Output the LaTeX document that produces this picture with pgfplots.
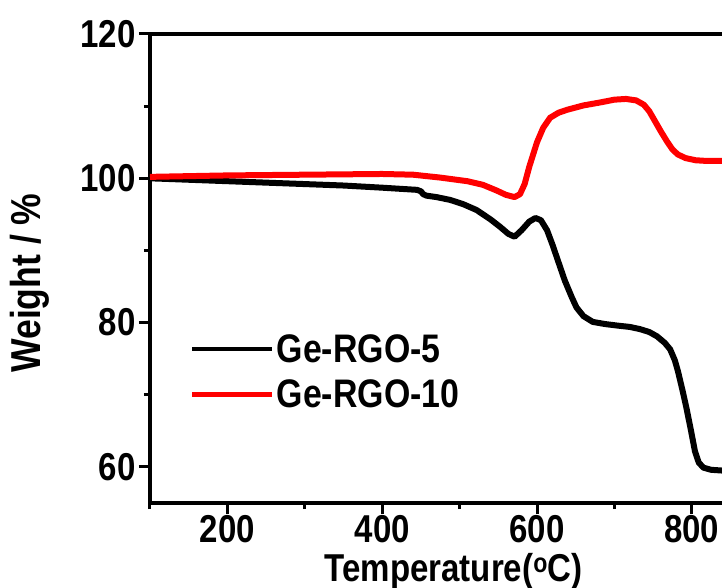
\documentclass[border=0pt]{standalone}
\usepackage{fontspec}
\setmainfont{Liberation Sans}[FakeStretch=0.85]
\usepackage{pgfplots}
\pgfplotsset{compat=1.18}
\begin{document}
\begin{tikzpicture}
\begin{axis}[
  scale only axis, width=572bp, height=469bp,
  xmin=100, xmax=839, ymin=55, ymax=120,
  axis x line=box, axis y line=left,
  y axis line style={-},
  xtick pos=left, ytick pos=left,
  tick align=outside,
  major tick length=11bp, minor tick length=6bp,
  every tick/.style={black, line width=3bp},
  axis line style={line width=4bp},
  xtick={200,400,600,800}, minor xtick={100,300,500,700},
  ytick={60,80,100,120}, minor ytick={70,90,110},
  tick label style={font=\fontsize{39}{42}\selectfont\bfseries},
  x tick label style={inner sep=1bp},
  /pgf/number format/assume math mode=true,
  /pgf/number format/set thousands separator={},
  xlabel={Temperature(\textsuperscript{o}C)},
  ylabel={Weight / \%},
  label style={font=\fontsize{39}{42}\selectfont\bfseries},
  xlabel style={at={(axis description cs:0.531,-0.106)}, anchor=north, inner sep=0pt},
  ylabel style={at={(axis description cs:-0.21,0.469)}, anchor=center,
    font=\fontsize{42}{44}\selectfont\bfseries},
  legend cell align=left,
  legend style={at={(axis description cs:0.07,0.364)}, anchor=north west,
    draw=none, fill=none, font=\fontsize{40}{44}\selectfont\bfseries,
    row sep=12bp, inner sep=0pt},
  legend image code/.code={\draw[#1, line width=4.5bp] (0bp,0bp) -- (80bp,0bp);},
]
\addplot[black, line width=6bp, line join=round] coordinates {
(100,100.0) (150,99.8) (200,99.6) (250,99.4) (300,99.2) (350,99.0) (400,98.7)
(445,98.4) (450,98.2) (453,97.8) (457,97.6) (470,97.4) (488,97.0) (505,96.4)
(522,95.6) (540,94.3) (552,93.3) (563,92.3) (571,91.9) (580,92.8) (590,94.0)
(598,94.5) (605,94.2) (613,92.8) (620,90.8) (627,88.6) (636,85.8) (645,83.5)
(651,82.1) (660,80.9) (672,80.1) (688,79.8) (703,79.6) (720,79.4) (733,79.1)
(745,78.7) (755,78.1) (765,77.2) (772,76.3) (778,74.8) (782,73.3) (788,70.6)
(793,68.2) (799,65.0) (804,62.2) (809,60.6) (815,59.9) (825,59.6) (839,59.5)
};
\addplot[red, line width=6bp, line join=round] coordinates {
(100,100.2) (200,100.4) (300,100.5) (400,100.6) (440,100.5) (475,100.1)
(510,99.6) (530,99.1) (548,98.3) (560,97.7) (571,97.4) (578,97.8) (584,99.2)
(590,101.6) (600,105.0) (608,107.0) (617,108.4) (628,109.1) (639,109.5)
(660,110.1) (681,110.5) (700,110.9) (715,111.0) (728,110.8) (738,110.2)
(745,109.3) (752,108.0) (760,106.5) (768,105.1) (775,104.0) (782,103.3)
(792,102.8) (805,102.5) (820,102.4) (839,102.4)
};
\legend{Ge-RGO-5, Ge-RGO-10}
\coordinate (sw) at (rel axis cs:0,0);
\coordinate (ne) at (rel axis cs:1,1);
\end{axis}
\pgfresetboundingbox
\path[use as bounding box] ([shift={(-150bp,-85bp)}]sw) rectangle ([shift={(0bp,34bp)}]ne);
\end{tikzpicture}
\end{document}
